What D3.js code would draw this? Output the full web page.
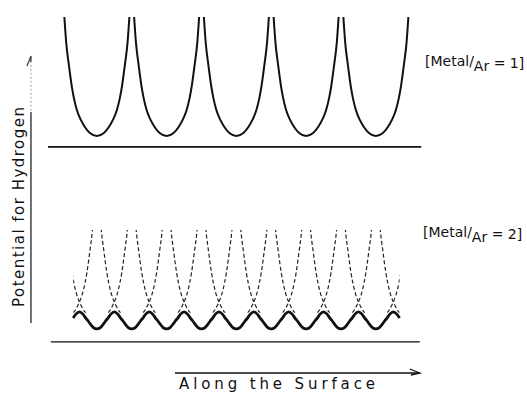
<!DOCTYPE html>
<html>
<head>
<meta charset="utf-8">
<script src="https://cdn.jsdelivr.net/npm/d3@7"></script>
<style>
  body { margin: 0; background: #fff; }
  svg { display: block; }
  text { font-family: "DejaVu Sans", sans-serif; fill: #111; }
</style>
</head>
<body>
<svg id="chart"></svg>
<script>
// top panel (Metal/Ar = 1): well centres in lattice units
const topCentres = [0.5, 1.5, 2.5, 3.5, 4.5];
// bottom panel (Metal/Ar = 2): single-atom wells (dashed) and summed curve maxima
const dashCentres = [0, 0.5, 1, 1.5, 2, 2.5, 3, 3.5, 4, 4.5, 5];
const waveMaxima = [0.25, 0.75, 1.25, 1.75, 2.25, 2.75, 3.25, 3.75, 4.25, 4.75];

// one well: distance from centre vs potential
const wellD = [0, 0.1, 0.172, 0.23, 0.287, 0.33, 0.358, 0.40, 0.439, 0.466];
const wellV = [0, 0.025, 0.076, 0.135, 0.218, 0.32, 0.41, 0.59, 0.78, 1.0];

// one period of the solid lower curve, offset from a maximum
const waveOff = [-0.25, -0.2, -0.15, -0.125, -0.09, -0.05, 0, 0.05, 0.09, 0.125, 0.15, 0.2];
const waveV   = [-0.067, -0.055, -0.02, 0.0, 0.025, 0.058, 0.076, 0.058, 0.025, 0.0, -0.02, -0.055];
const waveRange = [0.16, 4.84];
// dashed wells are drawn between these two potential levels
const dashTop = 0.765, dashBottom = 0.07;

const width = 527, height = 393;
const svg = d3.select("#chart").attr("width", width).attr("height", height);

const x = d3.scaleLinear().domain([0, 5]).range([62, 410.75]);
const yTop = d3.scaleLinear().domain([0, 1]).range([136, 17]);
const yBot = d3.scaleLinear().domain([0, 1]).range([321, 202]);

function wellPoints(c) {
  const pts = [];
  for (let i = wellD.length - 1; i > 0; i--) pts.push([c - wellD[i], wellV[i]]);
  pts.push([c, wellV[0]]);
  for (let i = 1; i < wellD.length; i++) pts.push([c + wellD[i], wellV[i]]);
  return pts;
}

const wavePts = [];
waveMaxima.forEach(m => {
  waveOff.forEach((o, i) => {
    const u = m + o;
    if (u >= waveRange[0] - 1e-6 && u <= waveRange[1] + 1e-6) wavePts.push([u, waveV[i]]);
  });
});

const lineTop = d3.line().x(d => x(d[0])).y(d => yTop(d[1])).curve(d3.curveMonotoneX);
const lineBot = d3.line().x(d => x(d[0])).y(d => yBot(d[1])).curve(d3.curveMonotoneX);

// clip: dashed wells only show above the summed curve and above its crests
svg.append("defs").append("clipPath").attr("id", "above")
  .append("path")
  .attr("d", d3.area()
    .x(d => x(d[0]))
    .y0(yBot(dashTop))
    .y1(d => Math.min(yBot(d[1]) - 1, yBot(dashBottom)))
    .curve(d3.curveMonotoneX)(wavePts));

// upper panel wells
svg.selectAll(".well")
  .data(topCentres)
  .enter().append("path")
  .attr("class", "well")
  .attr("d", c => lineTop(wellPoints(c)))
  .attr("fill", "none")
  .attr("stroke", "#111")
  .attr("stroke-width", 2);

// upper baseline
svg.append("line")
  .attr("x1", x(-0.2)).attr("x2", x(5.15))
  .attr("y1", yTop(-0.092)).attr("y2", yTop(-0.092))
  .attr("stroke", "#111").attr("stroke-width", 1.8);

// lower panel: dashed single wells
svg.append("g").attr("clip-path", "url(#above)")
  .selectAll(".dwell")
  .data(dashCentres)
  .enter().append("path")
  .attr("class", "dwell")
  .attr("d", c => lineBot(wellPoints(c)))
  .attr("fill", "none")
  .attr("stroke", "#222")
  .attr("stroke-width", 1.2)
  .attr("stroke-dasharray", "4,2.5");

// lower panel: summed potential
svg.append("path")
  .attr("d", lineBot(wavePts))
  .attr("fill", "none")
  .attr("stroke", "#111")
  .attr("stroke-width", 2.8);

// lower baseline
svg.append("line")
  .attr("x1", x(-0.16)).attr("x2", x(5.13))
  .attr("y1", yBot(-0.176)).attr("y2", yBot(-0.176))
  .attr("stroke", "#111").attr("stroke-width", 1.3);

// "along the surface" arrow
const ay = yBot(-0.437);
svg.append("line")
  .attr("x1", x(1.62)).attr("x2", x(5.13))
  .attr("y1", ay).attr("y2", ay)
  .attr("stroke", "#111").attr("stroke-width", 1.3);
svg.append("path")
  .attr("d", `M${x(5.13) - 10},${ay - 4} L${x(5.13)},${ay} L${x(5.13) - 9},${ay + 2}`)
  .attr("fill", "none").attr("stroke", "#111").attr("stroke-width", 1.3);

svg.append("text")
  .attr("x", 277).attr("y", 389)
  .attr("text-anchor", "middle")
  .attr("textLength", 196).attr("lengthAdjust", "spacing")
  .style("font-size", "15px")
  .text("Along the Surface");

// vertical potential axis
const ax = x(-0.445);
svg.append("line")
  .attr("x1", ax).attr("x2", ax)
  .attr("y1", 112).attr("y2", 323)
  .attr("stroke", "#111").attr("stroke-width", 1.2);
svg.append("line")
  .attr("x1", ax).attr("x2", ax)
  .attr("y1", 57).attr("y2", 112)
  .attr("stroke", "#888").attr("stroke-width", 1)
  .attr("stroke-dasharray", "1.5,2.5");
svg.append("path")
  .attr("d", `M${ax - 4},${66} L${ax},${56} L${ax},${62}`)
  .attr("fill", "none").attr("stroke", "#444").attr("stroke-width", 1.3);

svg.append("text")
  .attr("transform", `translate(24,207) rotate(-90)`)
  .attr("text-anchor", "middle")
  .attr("textLength", 200).attr("lengthAdjust", "spacing")
  .style("font-size", "15px")
  .text("Potential for Hydrogen");

// ratio labels
function ratioLabel(xp, yp, n) {
  const t = svg.append("text").attr("x", xp).attr("y", yp).style("font-size", "14px");
  t.append("tspan").text("[Metal");
  t.append("tspan").text("/");
  t.append("tspan").attr("dy", 5).text("Ar");
  t.append("tspan").attr("dy", -3).text(" = " + n + "]");
}
ratioLabel(425, 66, 1);
ratioLabel(423, 237, 2);
</script>
</body>
</html>
